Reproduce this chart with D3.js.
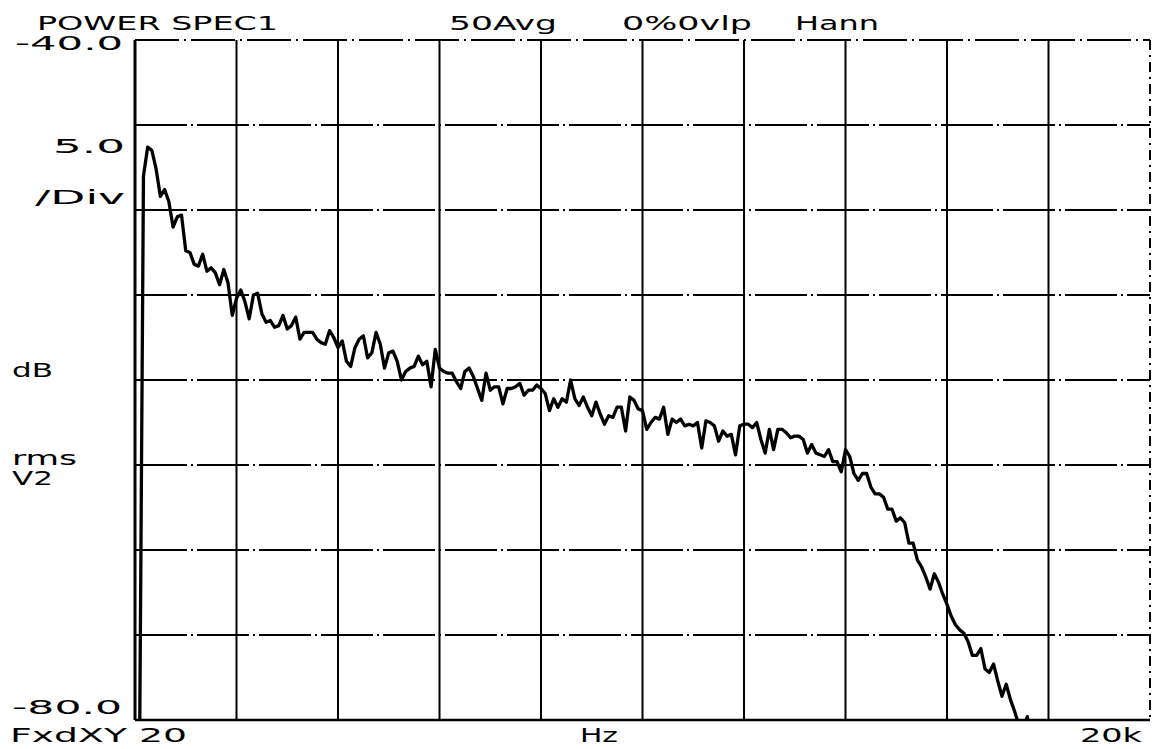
<!DOCTYPE html>
<html lang="en">
<head>
  <meta charset="UTF-8">
  <title>POWER SPEC1</title>
  <script src="https://cdnjs.cloudflare.com/ajax/libs/d3/7.8.5/d3.min.js"></script>
  <style>
    html, body {
      margin: 0;
      padding: 0;
      background: #fff;
    }
    text {
      font-family: "DejaVu Sans", sans-serif;
      font-size: 19px;
      fill: #000;
    }
  </style>
</head>
<body>
  <script>
    // analyzer settings
    const freqRange = [20, 20000];
    const dbRange = [-80, -40];
    const dbPerDiv = 5;
    const xDivs = 10;
    const pointsPerDecade = 80;

    // trace, dB rms V^2, one value per log bin starting at 20 Hz
    const spectrumDb = [
      -85, -85, -48.0, -46.3, -46.5, -47.6, -49.2, -48.8, -49.5, -51.0,
      -50.4, -50.3, -52.4, -52.5, -53.2, -53.3, -52.6, -53.6, -53.4, -53.7,
      -54.4, -53.5, -54.3, -56.2, -55.2, -54.7, -55.4, -56.4, -55.0, -54.9,
      -56.1, -56.6, -56.5, -56.9, -56.8, -56.2, -57.0, -56.8, -56.3, -57.6,
      -57.2, -57.2, -57.2, -57.6, -57.8, -57.9, -57.1, -57.5, -58.1, -57.7,
      -58.9, -59.2, -58.1, -57.6, -57.4, -58.7, -58.4, -57.2, -57.9, -59.3,
      -58.4, -58.3, -58.9, -60.0, -59.5, -59.3, -59.2, -58.6, -59.1, -58.9,
      -60.4, -58.2, -59.3, -59.5, -59.6, -59.6, -60.1, -60.5, -59.5, -59.3,
      -59.8, -60.5, -61.2, -59.6, -60.6, -60.4, -60.4, -61.4, -60.5, -60.5,
      -60.4, -60.2, -60.9, -60.6, -60.6, -60.3, -60.5, -60.8, -61.8, -61.1,
      -61.6, -61.1, -61.3, -60.0, -61.1, -61.5, -61.0, -61.6, -62.1, -61.3,
      -62.0, -62.6, -62.1, -62.2, -61.6, -61.6, -63.0, -61.0, -61.2, -61.7,
      -61.8, -62.9, -62.5, -62.2, -62.3, -61.6, -63.2, -62.3, -62.5, -62.3,
      -62.7, -62.6, -62.7, -62.5, -64.0, -62.4, -62.5, -62.7, -63.6, -63.0,
      -63.3, -63.2, -64.4, -62.7, -62.6, -62.6, -62.8, -62.5, -63.5, -64.3,
      -62.9, -64.1, -62.9, -62.9, -63.1, -63.4, -63.3, -63.3, -63.5, -64.3,
      -63.8, -64.3, -64.4, -64.5, -64.1, -64.8, -64.8, -65.4, -64.1, -64.5,
      -65.5, -65.9, -65.5, -65.5, -66.3, -66.7, -66.7, -66.9, -67.6, -67.6,
      -68.3, -68.1, -68.4, -69.6, -69.6, -70.6, -71.0, -71.6, -72.3, -71.4,
      -71.9, -72.6, -73.2, -73.9, -74.4, -74.7, -74.9, -75.4, -76.2, -76.2,
      -75.8, -77.0, -77.2, -76.7, -77.7, -78.6, -77.9, -78.8, -79.5, -80.3,
      -80.5, -79.8, -82
    ];

    // header and annotation texts (plotter font, 22 px pitch)
    const headerLabels = [
      { text: "POWER SPEC1", x: 37, y: 30, len: 241 },
      { text: "50Avg", x: 449, y: 30, len: 108 },
      { text: "0%0vlp", x: 622, y: 30, len: 130 },
      { text: "Hann", x: 795, y: 30, len: 84 }
    ];
    const sideLabels = [
      { text: "-40.0", x: 15, y: 50, len: 108 },
      { text: "5.0", x: 53, y: 153, len: 72 },
      { text: "/Div", x: 35, y: 204, len: 90 },
      { text: "dB", x: 12, y: 377, len: 41 },
      { text: "rms", x: 12, y: 465, len: 65 },
      { text: "V2", x: 12, y: 485, len: 41 },
      { text: "-80.0", x: 12, y: 714, len: 110 }
    ];
    const footLabels = [
      { text: "FxdXY 20", x: 10, y: 742, len: 177 },
      { text: "Hz", x: 580, y: 742, len: 38 },
      { text: "20k", x: 1080, y: 742, len: 62 }
    ];

    const w = 1163;
    const h = 749;
    const plotL = 135, plotR = 1150, plotT = 40, plotB = 720;

    const x = d3.scaleLog().domain(freqRange).range([plotL, plotR]);
    const y = d3.scaleLinear().domain(dbRange).range([plotB, plotT]);

    const decades = Math.log10(freqRange[1] / freqRange[0]);
    const freqs = spectrumDb.map((d, i) => freqRange[0] * Math.pow(10, i / pointsPerDecade));
    const xGrid = d3.range(xDivs + 1).map(k => freqRange[0] * Math.pow(10, decades * k / xDivs));
    const yGrid = d3.range(dbRange[0], dbRange[1] + 0.1, dbPerDiv);

    const svg = d3.select("body")
                  .append("svg")
                  .attr("width", w)
                  .attr("height", h);

    svg.append("defs").append("clipPath")
       .attr("id", "plot-clip")
       .append("rect")
       .attr("x", plotL).attr("y", plotT)
       .attr("width", plotR - plotL).attr("height", plotB - plotT);

    // horizontal grid, plotter dash-dot
    svg.append("g")
       .selectAll("line")
       .data(yGrid.filter(d => d > dbRange[0] && d < dbRange[1]))
       .enter().append("line")
       .attr("x1", plotL).attr("x2", plotR)
       .attr("y1", d => y(d)).attr("y2", d => y(d))
       .attr("stroke", "#000")
       .attr("stroke-width", 2)
       .attr("stroke-dasharray", "52 4 2 4");

    // vertical grid
    svg.append("g")
       .selectAll("line")
       .data(xGrid.slice(1, -1))
       .enter().append("line")
       .attr("x1", d => x(d)).attr("x2", d => x(d))
       .attr("y1", plotT).attr("y2", plotB)
       .attr("stroke", "#000")
       .attr("stroke-width", 2);

    // frame
    svg.append("line")
       .attr("x1", plotL).attr("x2", plotR)
       .attr("y1", y(dbRange[1])).attr("y2", y(dbRange[1]))
       .attr("stroke", "#000").attr("stroke-width", 2)
       .attr("stroke-dasharray", "44 5 2 5");
    svg.append("line")
       .attr("x1", plotL).attr("x2", plotR)
       .attr("y1", y(dbRange[0])).attr("y2", y(dbRange[0]))
       .attr("stroke", "#000").attr("stroke-width", 2.5);
    svg.append("line")
       .attr("x1", x(freqRange[0])).attr("x2", x(freqRange[0]))
       .attr("y1", plotT).attr("y2", plotB)
       .attr("stroke", "#000").attr("stroke-width", 3);
    svg.append("line")
       .attr("x1", x(freqRange[1])).attr("x2", x(freqRange[1]))
       .attr("y1", plotT).attr("y2", plotB)
       .attr("stroke", "#000").attr("stroke-width", 2)
       .attr("stroke-dasharray", "10 5 2 5");

    // trace
    const line = d3.line()
                   .x((d, i) => x(freqs[i]))
                   .y(d => y(d));

    svg.append("path")
       .datum(spectrumDb)
       .attr("clip-path", "url(#plot-clip)")
       .attr("d", line)
       .attr("fill", "none")
       .attr("stroke", "#000")
       .attr("stroke-width", 3.3)
       .attr("stroke-linejoin", "round");

    // texts
    svg.append("g")
       .selectAll("text")
       .data(headerLabels.concat(sideLabels, footLabels))
       .enter().append("text")
       .attr("x", d => d.x)
       .attr("y", d => d.y)
       .attr("textLength", d => d.len)
       .attr("lengthAdjust", "spacingAndGlyphs")
       .text(d => d.text);
  </script>
</body>
</html>
